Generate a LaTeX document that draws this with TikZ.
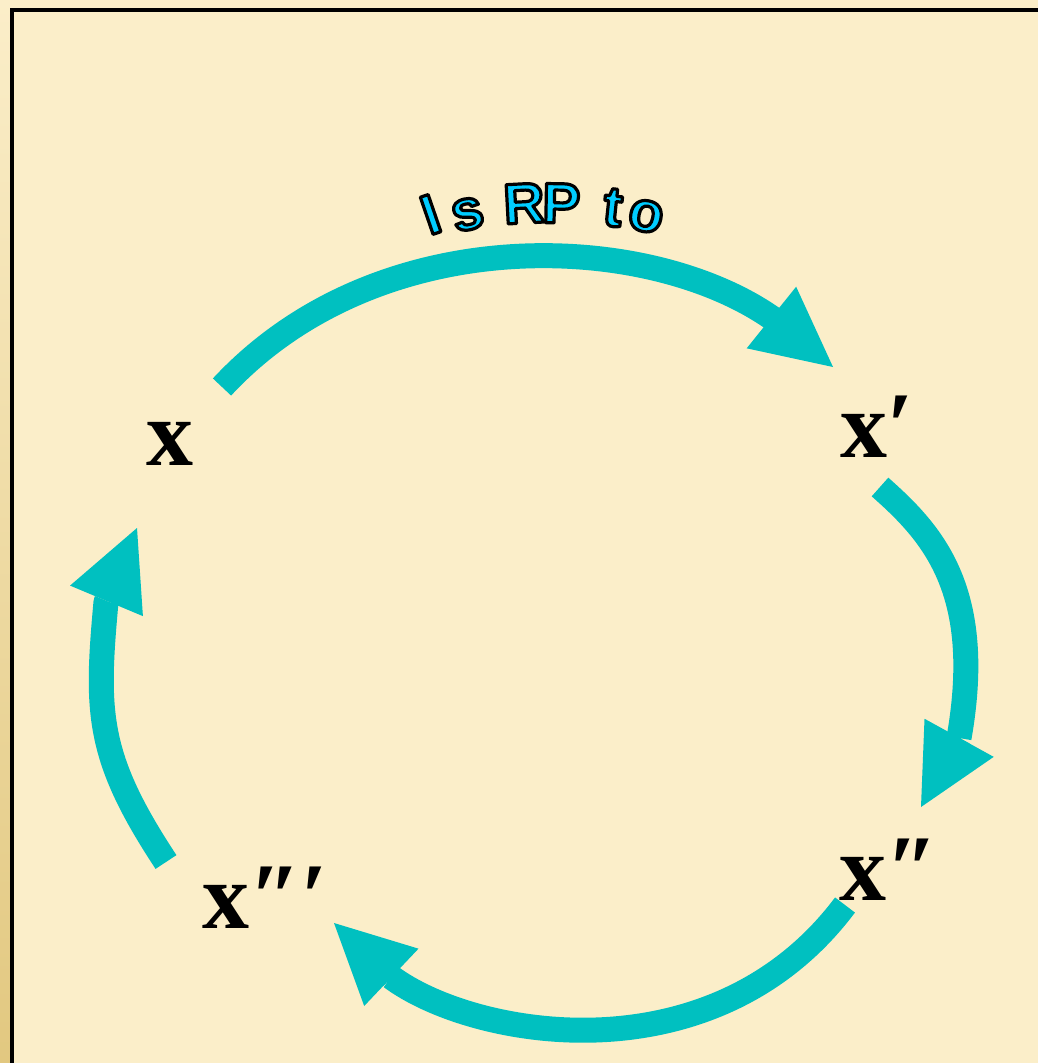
\documentclass[tikz,border=0pt]{standalone}
\usepackage{fontspec}
\setmainfont{Liberation Serif}
\newfontfamily\arcfont{Liberation Sans}
\usetikzlibrary{arrows.meta}
\definecolor{paper}{RGB}{251,238,201}
\definecolor{arrowteal}{RGB}{0,192,192}
\definecolor{wordblue}{RGB}{0,204,255}
\definecolor{rimgold}{RGB}{226,200,128}
% filled glyphs with a black rim
\newcommand{\rimtext}[1]{\special{pdf:literal direct 0 G 3.2 w 1 j 2 Tr}#1\special{pdf:literal direct 0 Tr}}

\begin{document}
\begin{tikzpicture}[x=1pt, y=-1pt,
        cyc/.style={line width=25pt, line join=round, arrowteal, -{Triangle[length=79pt, width=79pt, line width=0pt]}},
        lbl/.style={inner sep=0pt, anchor=base west, font=\fontsize{94}{94}\selectfont\bfseries},
        arcchar/.style={inner sep=0pt, anchor=base, text=wordblue, font=\fontsize{57}{57}\selectfont\arcfont\bfseries}]
        % Slide frame
        \useasboundingbox (0,0) rectangle (1038,1063);
        \fill[paper] (0,0) rectangle (1038,1063);
        \shade[top color=paper, bottom color=rimgold] (0,0) rectangle (10,1063);
        \draw[line width=4pt] (12,1063) -- (12,9.5) -- (1038,9.5);

        % The four terms
        \node[lbl] (x0) at (146,465) {x};
        \node[lbl] (x1) at (840,457) {x′};
        \node[lbl] (x2) at (839,900) {x″};
        \node[lbl] (x3) at (202,928) {x″′};

        % Arrows round the cycle (start, head base, tip)
        \coordinate (a0) at (222,387);  \coordinate (m0) at (772,318);  \coordinate (b0) at (833,367);
        \coordinate (a1) at (880,487);  \coordinate (m1) at (959,738);  \coordinate (b1) at (921,807);
        \coordinate (a2) at (845,905);  \coordinate (m2) at (391,977);  \coordinate (b2) at (334,923);
        \coordinate (a3) at (166,862);  \coordinate (m3) at (106,602);  \coordinate (b3) at (137,528);
        \draw[cyc] (a0) .. controls (378,219) and (647,231) .. (m0) -- (b0);
        \draw[cyc] (a1) .. controls (932,533) and (985,590) .. (m1) -- (b1);
        \draw[cyc] (a2) .. controls (713,1081) and (473,1038) .. (m2) -- (b2);
        \draw[cyc] (a3) .. controls (96,756) and (96,712) .. (m3) -- (b3);

        % Arched caption
        \foreach \ch/\px/\py/\rot in {I/437/233/19, s/471/229/13, R/525/223/3, P/561/223/-1, t/611/226/-6, o/643/231/-11}
            \node[arcchar, rotate=\rot] (w\ch) at (\px,\py) {\rimtext{\ch}};
    \end{tikzpicture}
\end{document}
